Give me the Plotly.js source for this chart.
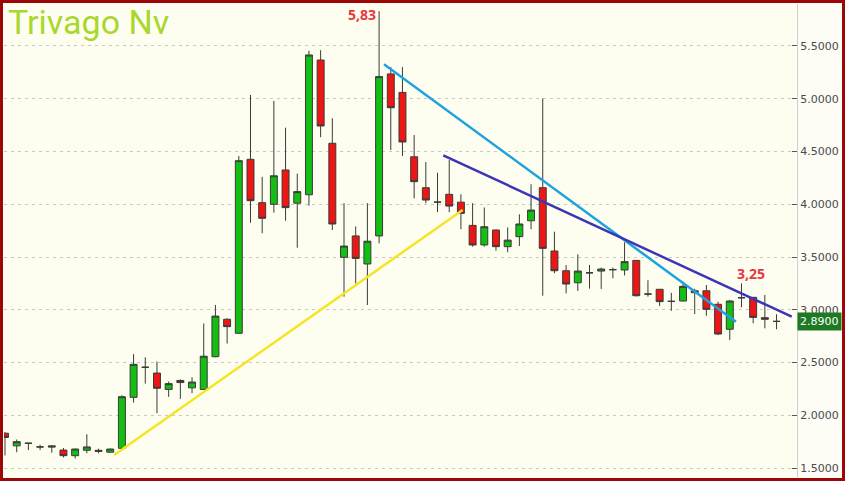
<!DOCTYPE html>
<html>
<head>
<meta charset="utf-8">
<script src="https://cdn.plot.ly/plotly-3.0.1.min.js"></script>
<style>
  body { margin: 0; background: #ffffff; }
  #wrap { position: relative; width: 845px; height: 481px; }
  #chart { width: 845px; height: 481px; }
  #frame { position: absolute; left: 0; top: 0; width: 845px; height: 481px; box-sizing: border-box;
           border: 3px solid #9c0606; pointer-events: none; }
</style>
</head>
<body>
<div id="wrap"><div id="chart"></div><div id="frame"></div></div>
<script>
// weekly candles (index 0 = oldest)
var opens  = [1.83,1.71,1.735,1.70,1.71,1.67,1.617,1.668,1.668,1.65,
              1.687,2.17,2.455,2.40,2.245,2.33,2.26,2.245,2.555,2.91,
              2.777,4.426,4.015,4.00,4.325,4.01,4.09,5.367,4.578,3.497,
              3.70,3.434,3.70,5.235,5.06,4.45,4.157,4.02,4.094,4.02,
              3.80,3.614,3.756,3.598,3.693,3.844,4.157,3.557,3.37,3.256,
              3.35,3.367,3.38,3.377,3.468,3.149,3.194,3.08,3.083,3.18,
              3.18,3.052,2.815,3.114,3.118,2.925,2.89]
var highs  = [1.84,1.77,1.74,1.72,1.715,1.69,1.685,1.82,1.683,1.685,
              2.19,2.58,2.55,2.51,2.32,2.34,2.36,2.87,3.045,2.92,
              4.457,5.036,4.26,4.98,4.726,4.29,5.455,5.46,4.815,4.01,
              3.79,4.01,5.83,5.30,5.30,4.656,4.40,4.30,4.42,4.094,
              4.01,3.97,3.76,3.78,3.905,4.19,5.004,3.74,3.424,3.526,
              3.425,3.40,3.40,3.64,3.47,3.28,3.194,3.16,3.265,3.20,
              3.235,3.077,3.093,3.25,3.12,3.14,2.957]
var lows   = [1.62,1.65,1.67,1.67,1.645,1.60,1.59,1.64,1.64,1.645,
              1.68,2.12,2.30,2.02,2.175,2.155,2.21,2.24,2.55,2.68,
              2.77,3.825,3.725,3.92,3.844,3.588,3.986,4.635,3.756,3.124,
              3.25,3.045,3.63,4.514,4.457,4.056,4.01,3.925,3.925,3.763,
              3.598,3.598,3.56,3.545,3.604,3.763,3.133,3.346,3.156,3.178,
              3.20,3.197,3.298,3.325,3.125,3.125,3.035,2.99,3.08,2.96,
              2.944,2.76,2.713,3.023,2.872,2.824,2.815]
var closes = [1.79,1.75,1.735,1.70,1.70,1.617,1.68,1.70,1.658,1.68,
              2.176,2.483,2.455,2.256,2.30,2.31,2.315,2.56,2.94,2.84,
              4.413,4.034,3.867,4.27,3.968,4.12,5.415,4.742,3.813,3.604,
              3.487,3.65,5.21,4.915,4.59,4.214,4.04,4.02,3.983,3.914,
              3.614,3.787,3.598,3.66,3.813,3.945,3.582,3.37,3.244,3.367,
              3.35,3.386,3.38,3.456,3.133,3.149,3.077,3.08,3.222,3.162,
              3.004,2.77,3.083,3.114,2.928,2.91,2.89]

// hand-drawn trendlines: [start index, start value, end index, end value]
var supportLine = [9.34, 1.623, 39.15, 3.946]
var fastResist  = [32.42, 5.326, 62.53, 2.887]
var slowResist  = [37.49, 4.464, 67.3, 2.934]

// candles whose high is written on the chart
var markedHighs = [32, 63]

var yTicks = [1.5, 2.0, 2.5, 3.0, 3.5, 4.0, 4.5, 5.0, 5.5]

var idx = []
for (i = 0; i < opens.length; i++) { idx.push(i) }

var candles = {
    type: 'candlestick',
    x: idx,
    open: opens,
    high: highs,
    low: lows,
    close: closes,
    increasing: { fillcolor: '#12bf12', line: { color: '#3a3a3a', width: 1 } },
    decreasing: { fillcolor: '#ee1515', line: { color: '#3a3a3a', width: 1 } },
    whiskerwidth: 0,
    hoverinfo: 'none',
    showlegend: false
}

function trend(seg, color) {
    return {
        type: 'scatter',
        mode: 'lines',
        x: [seg[0], seg[2]],
        y: [seg[1], seg[3]],
        line: { color: color, width: 2.5 },
        hoverinfo: 'none',
        showlegend: false
    }
}

var data = [
    candles,
    trend(supportLine, '#f4e526'),
    trend(fastResist, '#1ea2e0'),
    trend(slowResist, '#3b35b8')
]

var last = closes[closes.length - 1]

var notes = []
// chart name in the corner
notes.push({
    x: 0, y: 1, xref: 'paper', yref: 'paper',
    text: 'Trivago Nv',
    showarrow: false, xanchor: 'left', yanchor: 'top', xshift: 2, yshift: 4,
    font: { family: 'Roboto', size: 34, color: '#a8d82e' }
})
// high labels, european decimal comma as on the chart
notes.push({
    x: markedHighs[0], y: highs[markedHighs[0]], xref: 'x', yref: 'y',
    text: '<b>' + highs[markedHighs[0]].toFixed(2).replace('.', ',') + '</b>',
    showarrow: false, xanchor: 'right', yanchor: 'middle', xshift: -1, yshift: -3,
    font: { family: 'Open Sans', size: 14, color: '#e8363f' }
})
notes.push({
    x: markedHighs[1], y: highs[markedHighs[1]], xref: 'x', yref: 'y',
    text: '<b>' + highs[markedHighs[1]].toFixed(2).replace('.', ',') + '</b>',
    showarrow: false, xanchor: 'center', yanchor: 'bottom', xshift: 10, yshift: -2,
    font: { family: 'Open Sans', size: 14, color: '#e8363f' }
})
// last price tag on the axis
notes.push({
    x: 1, y: last, xref: 'paper', yref: 'y',
    text: last.toFixed(4),
    showarrow: false, xanchor: 'left', yanchor: 'middle', xshift: 0,
    bgcolor: '#1e7a22', borderpad: 2,
    font: { family: 'DejaVu Sans', size: 11, color: '#ffffff' }
})

var layout = {
    width: 845,
    height: 481,
    margin: { l: 4, r: 48, t: 4, b: 4 },
    paper_bgcolor: '#fdfdf6',
    plot_bgcolor: '#fefef0',
    boxgap: 0.15,
    xaxis: {
        range: [-0.086, 67.75],
        visible: false,
        rangeslider: { visible: false },
        fixedrange: true
    },
    yaxis: {
        side: 'right',
        range: [1.415, 5.898],
        tickvals: yTicks,
        tickformat: '.4f',
        ticks: 'inside',
        ticklen: 5,
        tickcolor: '#555555',
        showline: true,
        linecolor: '#cfcfcf',
        linewidth: 1,
        showgrid: true,
        gridcolor: '#c8c8c8',
        griddash: '3px,4px',
        gridwidth: 1,
        zeroline: false,
        tickfont: { family: 'DejaVu Sans', size: 11, color: '#4a4a4a' }
    },
    annotations: notes,
    showlegend: false,
    hovermode: false
}

Plotly.newPlot('chart', data, layout, { displayModeBar: false, staticPlot: true })
</script>
</body>
</html>
